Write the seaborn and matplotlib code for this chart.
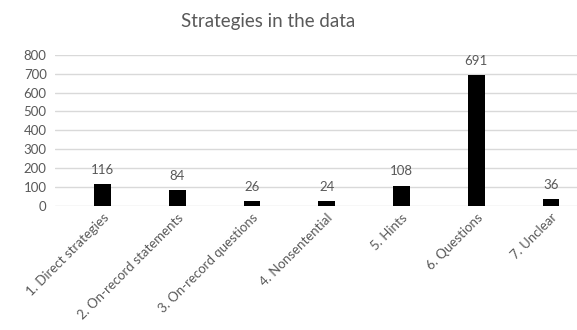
import matplotlib
matplotlib.use("Agg")
import matplotlib.pyplot as plt
import seaborn as sns
import pandas as pd

categories = [
    "1. Direct strategies",
    "2. On-record statements",
    "3. On-record questions",
    "4. Nonsentential",
    "5. Hints",
    "6. Questions",
    "7. Unclear",
]
counts = [116, 84, 26, 24, 108, 691, 36]
y_ticks = [0, 100, 200, 300, 400, 500, 600, 700, 800]

df = pd.DataFrame({"strategy": categories, "count": counts})

sns.set_theme(style="white")
plt.rcParams["font.family"] = ["Lato", "DejaVu Sans"]

text_gray = "#595959"
grid_gray = "#d9d9d9"

fig = plt.figure(figsize=(5.77, 3.30), dpi=100)
ax = fig.add_axes([55 / 577, 1 - 206 / 330, (577 - 55) / 577, (206 - 54.7) / 330])

sns.barplot(data=df, x="strategy", y="count", color="black", width=0.225,
            ax=ax, zorder=3, saturation=1, edgecolor="black", linewidth=0)

ax.set_ylim(0, 800)
ax.set_xlim(-0.635, 6.348)
ax.set_yticks(y_ticks)
ax.set_yticklabels([str(v) for v in y_ticks])
ax.yaxis.grid(True, color=grid_gray, linewidth=1)
ax.set_axisbelow(True)
for s in ax.spines.values():
    s.set_visible(False)
ax.tick_params(axis="both", length=0, labelcolor=text_gray, labelsize=9.5)
ax.tick_params(axis="y", pad=6)
ax.tick_params(axis="x", pad=4)
ax.set_xlabel("")
ax.set_ylabel("")
for lbl in ax.get_xticklabels():
    lbl.set_rotation(45)
    lbl.set_ha("right")
    lbl.set_rotation_mode("anchor")

for i, v in enumerate(counts):
    ax.annotate(str(v), (i, v), xytext=(0, 6), textcoords="offset points",
                ha="center", va="bottom", color=text_gray, fontsize=9.5)

fig.text(268 / 577, 1 - 22 / 330, "Strategies in the data", ha="center", va="center",
         color=text_gray, fontsize=13.5)

fig.savefig("out.png", dpi=100)
